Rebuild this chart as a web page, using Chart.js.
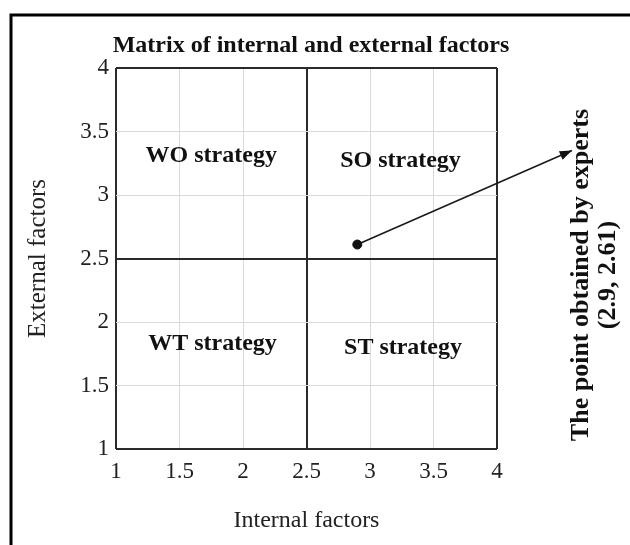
<!DOCTYPE html>
<html>
<head>
<meta charset="utf-8">
<script src="https://cdn.jsdelivr.net/npm/chart.js@4.4.0/dist/chart.umd.min.js"></script>
<style>
    html, body { margin: 0; padding: 0; background: #fff; }
    #wrap { width: 630px; height: 545px; }
</style>
</head>
<body>
<div id="wrap"><canvas id="matrixChart"></canvas></div>
<script>
// axis range and ticks
const axisTicks = [1, 1.5, 2, 2.5, 3, 3.5, 4];
const midValue = 2.5;

// the point obtained by experts
const pointX = [2.9];
const pointY = [2.61];

// arrow from the point towards the note on the right
const arrowX = [2.9, 4.59];
const arrowY = [2.61, 3.35];

// quadrant names and where they sit
const quadrantNames = ['WO strategy', 'SO strategy', 'WT strategy', 'ST strategy'];
const quadrantX = [1.75, 3.24, 1.76, 3.26];
const quadrantY = [3.31, 3.27, 1.83, 1.80];

const titleText = 'Matrix of internal and external factors';
const noteLines = ['The point obtained by experts', '(2.9, 2.61)'];

const serif = '"Liberation Serif", "Times New Roman", serif';
const dark = '#2a2a2a';

function isMainLine(v) {
    return v === axisTicks[0] || v === midValue || v === axisTicks[axisTicks.length - 1];
}
function gridColor(context) {
    return isMainLine(context.tick.value) ? dark : '#dadada';
}
function gridWidth(context) {
    return isMainLine(context.tick.value) ? 2 : 1;
}

// draws title, quadrant texts, arrowhead, side note and frame
const overlayPlugin = {
    id: 'overlay',
    afterDatasetsDraw(chart) {
        const ctx = chart.ctx;
        const xs = chart.scales.x;
        const ys = chart.scales.y;
        ctx.save();

        // title
        ctx.fillStyle = '#111';
        ctx.font = 'bold 24px ' + serif;
        ctx.textAlign = 'center';
        ctx.textBaseline = 'middle';
        ctx.fillText(titleText, 311, 46);

        // quadrant labels
        ctx.font = 'bold 24px ' + serif;
        for (let i = 0; i < quadrantNames.length; i++) {
            ctx.fillText(quadrantNames[i], xs.getPixelForValue(quadrantX[i]), ys.getPixelForValue(quadrantY[i]));
        }

        // arrowhead
        const x0 = xs.getPixelForValue(arrowX[0]), y0 = ys.getPixelForValue(arrowY[0]);
        const x1 = xs.getPixelForValue(arrowX[1]), y1 = ys.getPixelForValue(arrowY[1]);
        const ang = Math.atan2(y1 - y0, x1 - x0);
        const len = 13, half = 0.36;
        ctx.beginPath();
        ctx.moveTo(x1, y1);
        ctx.lineTo(x1 - len * Math.cos(ang - half), y1 - len * Math.sin(ang - half));
        ctx.lineTo(x1 - len * Math.cos(ang + half), y1 - len * Math.sin(ang + half));
        ctx.closePath();
        ctx.fillStyle = '#111';
        ctx.fill();

        // rotated note on the right
        ctx.save();
        ctx.translate(581, 275);
        ctx.rotate(-Math.PI / 2);
        ctx.font = 'bold 26px ' + serif;
        ctx.fillText(noteLines[0], 0, 0);
        ctx.fillText(noteLines[1], 0, 27);
        ctx.restore();

        // outer frame
        ctx.strokeStyle = '#000';
        ctx.lineWidth = 3;
        ctx.beginPath();
        ctx.moveTo(11, 560);
        ctx.lineTo(11, 15);
        ctx.lineTo(640, 15);
        ctx.stroke();

        ctx.restore();
    }
};

const ctx = document.getElementById('matrixChart');
new Chart(ctx, {
    type: 'scatter',
    data: {
        datasets: [{
            label: 'Experts point',
            data: pointX.map((x, i) => ({ x: x, y: pointY[i] })),
            backgroundColor: '#111',
            borderColor: '#111',
            pointRadius: 4.5,
            order: 0
        }, {
            type: 'line',
            label: 'Arrow',
            data: arrowX.map((x, i) => ({ x: x, y: arrowY[i] })),
            borderColor: '#1a1a1a',
            borderWidth: 1.6,
            pointRadius: 0,
            showLine: true,
            clip: false,
            order: 1
        }]
    },
    options: {
        responsive: true,
        maintainAspectRatio: false,
        animation: false,
        events: [],
        layout: {
            padding: { left: 20, right: 133, top: 68, bottom: 0 }
        },
        plugins: {
            legend: { display: false },
            tooltip: { enabled: false },
            title: { display: false }
        },
        scales: {
            x: {
                type: 'linear',
                min: 1,
                max: 4,
                afterBuildTicks: function (scale) {
                    scale.ticks = axisTicks.map(v => ({ value: v }));
                },
                afterFit: function (scale) {
                    scale.height = 96;
                },
                ticks: {
                    color: '#222',
                    padding: 9,
                    font: { family: serif, size: 23 },
                    callback: v => String(v)
                },
                grid: { color: gridColor, lineWidth: gridWidth, drawTicks: false },
                border: { display: false },
                title: {
                    display: true,
                    text: 'Internal factors',
                    color: '#222',
                    font: { family: serif, size: 24 },
                    padding: { top: 4, bottom: 10 }
                }
            },
            y: {
                type: 'linear',
                min: 1,
                max: 4,
                afterBuildTicks: function (scale) {
                    scale.ticks = axisTicks.map(v => ({ value: v }));
                },
                afterFit: function (scale) {
                    scale.width = 96;
                },
                ticks: {
                    color: '#222',
                    padding: 7,
                    font: { family: serif, size: 23 },
                    callback: v => String(v)
                },
                grid: { color: gridColor, lineWidth: gridWidth, drawTicks: false },
                border: { display: false },
                title: {
                    display: true,
                    text: 'External factors',
                    color: '#222',
                    font: { family: serif, size: 25 },
                    padding: { top: 3, bottom: 0 }
                }
            }
        }
    },
    plugins: [overlayPlugin]
});
</script>
</body>
</html>
